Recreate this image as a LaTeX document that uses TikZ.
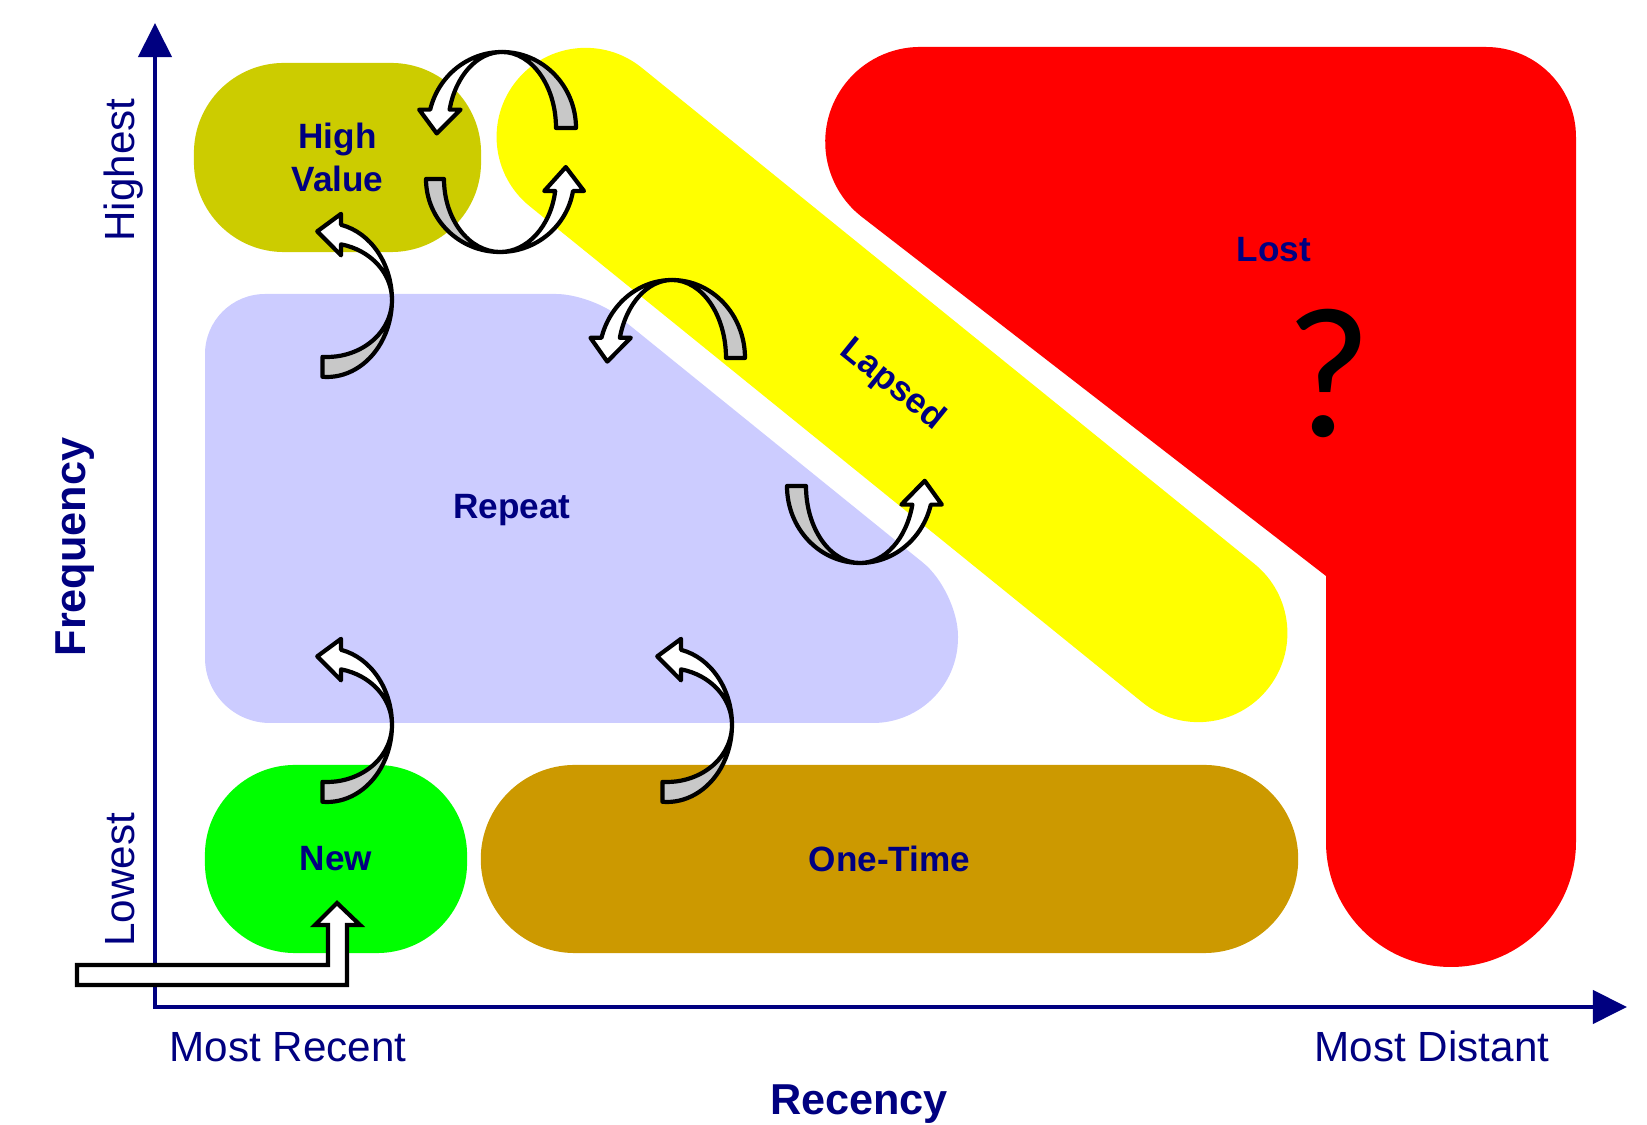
\documentclass[tikz,border=0pt]{standalone}
\usepackage{fontspec}
\setmainfont{Liberation Sans}
\newfontfamily\qfont{Carlito}
\usetikzlibrary{arrows.meta,calc}
\definecolor{navy}{HTML}{000080}
\definecolor{hvolive}{HTML}{CCCC00}
\definecolor{lapyellow}{HTML}{FFFF00}
\definecolor{replav}{HTML}{CCCCFF}
\definecolor{onegold}{HTML}{CC9900}
\definecolor{backgrey}{HTML}{C8C8C8}
\newcommand{\cycarrow}[9]{
  % centre #1,#2 radii #3,#4 band #5,#6 angles tail #7 twist #8 head #9
  \pgfmathsetmacro\irx{#3-#5}
  \pgfmathsetmacro\iry{#4-#6}
  \pgfmathsetmacro\tnx{#9+10*sign(#9-(#8))}
  \coordinate (to) at ({#1+#3*cos(#7)},{#2+#4*sin(#7)});
  \coordinate (mo) at ({#1+#3*cos(#8)},{#2+#4*sin(#8)});
  \coordinate (mi) at ({#1+\irx*cos(#8)},{#2+\iry*sin(#8)});
  \coordinate (ho) at ({#1+#3*cos(#9)},{#2+#4*sin(#9)});
  \coordinate (hi) at ({#1+\irx*cos(#9)},{#2+\iry*sin(#9)});
  \coordinate (hn) at ({#1+(#3+\irx)/2*cos(\tnx)},{#2+(#4+\iry)/2*sin(\tnx)});
  \coordinate (hm) at ($(ho)!0.5!(hi)$);
  \filldraw[arrback] (to) arc[start angle=#7,end angle=#8,x radius=#3,y radius=#4]
    -- (mi) arc[start angle=#8,end angle=#7,x radius=\irx,y radius=\iry] -- cycle;
  \filldraw[arrfront] (mo) arc[start angle=#8,end angle=#9,x radius=#3,y radius=#4]
    -- ($(ho)!-0.11cm!(hi)$) -- ($(hm)!0.24cm!(hn)$) -- ($(hi)!-0.11cm!(ho)$)
    -- (hi) arc[start angle=#9,end angle=#8,x radius=\irx,y radius=\iry] -- cycle;
}
\begin{document}
\begin{tikzpicture}[x=0.01cm,y=-0.01cm]
\tikzstyle{zone}=[inner sep=0pt,text=navy,font=\bfseries\fontsize{10}{12.2}\selectfont,align=center]
\tikzstyle{lbl}=[text=navy,font=\bfseries\fontsize{10}{12}\selectfont,anchor=base,inner sep=0pt]
\tikzstyle{axlbl}=[text=navy,font=\fontsize{12}{14}\selectfont,anchor=base,inner sep=0pt]
\tikzstyle{axline}=[navy,line width=0.04cm,-{Triangle[length=0.34cm,width=0.33cm]}]
\tikzstyle{arrback}=[fill=backgrey,draw=black,line width=0.042cm,line join=round]
\tikzstyle{arrfront}=[fill=white,draw=black,line width=0.042cm,line join=round]
\useasboundingbox (0,0) rectangle (1647,1125);

% zones
\fill[red] (920,47) -- (1486,47) arc[start angle=-90,end angle=0,radius=90]
  -- (1576,842) arc[start angle=0,end angle=180,radius=125]
  -- (1326,576) -- (862,217) arc[start angle=127.8,end angle=270,radius=95] -- cycle;
\node[zone,fill=lapyellow,rotate=-39,minimum width=9.66cm,minimum height=1.78cm,rounded corners=0.89cm] (lap) at (892,385) {Lapsed};
\node[zone,fill=hvolive,minimum width=2.87cm,minimum height=1.89cm,rounded corners=0.9cm] (hv) at (337.5,157.5) {High\\Value};
\fill[replav] (205,500) [rounded corners=0.6cm] -- (205,294) [rounded corners=0.35cm] -- (591,294)
  [rounded corners=0.45cm] -- (958,591) [rounded corners=0.85cm] -- (958,723)
  [rounded corners=0.65cm] -- (205,723) -- cycle;
\node[zone,fill=green,minimum width=2.62cm,minimum height=1.88cm,rounded corners=0.9cm] (new) at (336,859) {New};
\node[zone,fill=onegold,minimum width=8.17cm,minimum height=1.88cm,rounded corners=0.94cm] (one) at (889.5,859) {One-Time};
\node[lbl] (rep) at (512,519) {Repeat};
\node[lbl] (lost) at (1274,262) {Lost};
\node[anchor=base,inner sep=0pt,font=\qfont\fontsize{53}{53}\selectfont] (q) at (1329,437) {?};

% axes
\coordinate (o) at (153,1007);
\coordinate (ytop) at (155,23);
\coordinate (xend) at (1627,1007);
\draw[axline] (155,1007) -- (ytop);
\draw[axline] (o) -- (xend);
\node[axlbl,rotate=90] (hig) at (134,170) {Highest};
\node[axlbl,rotate=90] (low) at (134,880) {Lowest};
\node[axlbl,rotate=90,font=\bfseries\fontsize{12.3}{14}\selectfont] (freq) at (86,547) {Frequency};
\node[axlbl] (mrec) at (288,1062) {Most Recent};
\node[axlbl] (mdis) at (1432,1062) {Most Distant};
\node[axlbl,font=\bfseries\fontsize{12.3}{14}\selectfont] (rec) at (859,1115) {Recency};

% moves between groups
\foreach \cx/\cy in {327/300,327/725,667/725}
  {\cycarrow{\cx}{\cy}{65}{77}{0}{20}{94}{0}{-77.5}}
\cycarrow{672}{358}{73}{78}{19}{0}{0}{-90}{-165}
\cycarrow{860}{486}{73}{77}{19}{0}{180}{90}{14}
\cycarrow{502}{128}{74}{76}{20}{0}{0}{-90}{-166}
\cycarrow{500}{179}{74}{73}{18}{0}{180}{90}{9.5}
\filldraw[arrfront,line join=miter] (77,965) -- (328,965) -- (328,925) -- (315,925) -- (337,903)
  -- (360,925) -- (347,925) -- (347,985) -- (77,985) -- cycle;
\end{tikzpicture}
\end{document}
